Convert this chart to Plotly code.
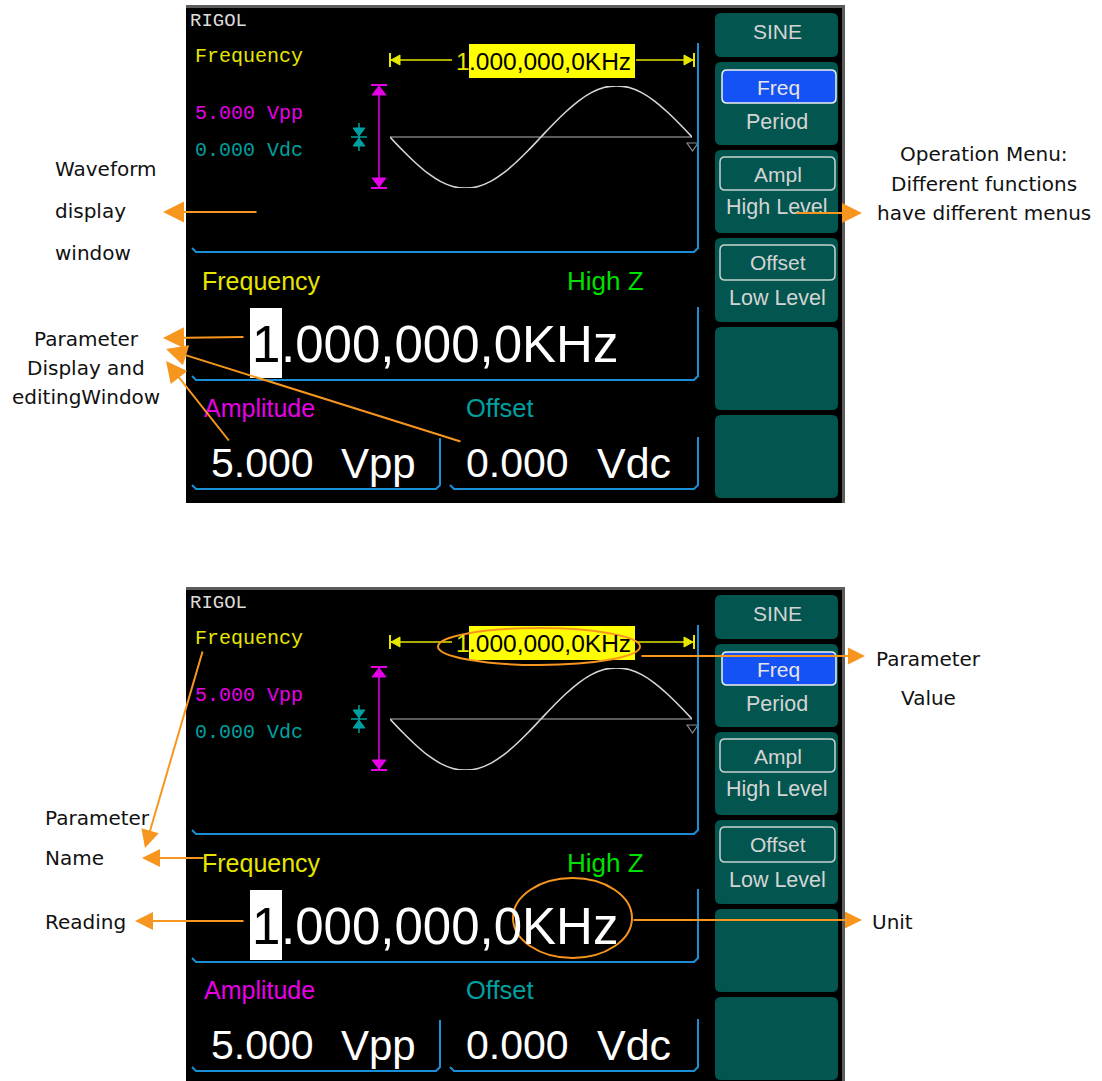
import plotly.graph_objects as go

W, H = 1102, 1081

# ---------------- text / data content ----------------
brand = "RIGOL"
wave_param_name = "Frequency"
wave_status = ["5.000 Vpp", "0.000 Vdc"]
freq_lead_digit = "1"
freq_rest = ".000,000,0KHz"
edit_param_name = "Frequency"
load_label = "High Z"
sub_labels = ["Amplitude", "Offset"]
sub_values = ["5.000", "0.000"]
sub_units = ["Vpp", "Vdc"]
menu_title = "SINE"
menu_upper = ["Freq", "Ampl", "Offset"]
menu_lower = ["Period", "High Level", "Low Level"]

# waveform: phase (deg) and level (fraction of half amplitude)
wave_phase = [0, 15, 30, 45, 60, 75, 90, 105, 120, 135, 150, 165, 180,
              195, 210, 225, 240, 255, 270, 285, 300, 315, 330, 345, 360]
wave_level = [0, -0.26, -0.5, -0.71, -0.87, -0.97, -1, -0.97, -0.87, -0.71, -0.5, -0.26, 0,
              0.26, 0.5, 0.71, 0.87, 0.97, 1, 0.97, 0.87, 0.71, 0.5, 0.26, 0]

callout_waveform = ["Waveform", "display", "window"]
callout_param = ["Parameter", "Display and", "editingWindow"]
callout_menu = ["Operation Menu:", "Different functions", "have different menus"]
callout_value = ["Parameter", "Value"]
callout_name = ["Parameter", "Name"]
callout_reading = ["Reading"]
callout_unit = ["Unit"]

# ---------------- styles ----------------
ORANGE = "#f7961f"
BLUE_FRAME = "#1b8fd6"
YELLOW = "#e6e600"
MAGENTA = "#e600e6"
TEAL = "#00a0a0"
GREEN = "#00e000"
BTN = "#02564f"
MENU_TXT = "#d4d4d4"

MONO = "Liberation Mono, DejaVu Sans Mono, monospace"
SANS = "Liberation Sans, Arial, sans-serif"
LABEL = "DejaVu Sans, Verdana, sans-serif"

SCREEN_DY = [0, 582]

shapes = []
annotations = []


def rect(x0, y0, x1, y1, fill, layer="below"):
    shapes.append(dict(type="rect", xref="x", yref="y", x0=x0, y0=y0, x1=x1, y1=y1,
                       fillcolor=fill, line=dict(width=0), layer=layer))


def path(d, color, width=2, fill=None, layer="below"):
    shapes.append(dict(type="path", xref="x", yref="y", path=d,
                       line=dict(color=color, width=width),
                       fillcolor=fill if fill else "rgba(0,0,0,0)", layer=layer))


def rrect_path(x0, y0, x1, y1, r):
    return (f"M{x0+r},{y0} L{x1-r},{y0} Q{x1},{y0} {x1},{y0+r} L{x1},{y1-r} "
            f"Q{x1},{y1} {x1-r},{y1} L{x0+r},{y1} Q{x0},{y1} {x0},{y1-r} "
            f"L{x0},{y0+r} Q{x0},{y0} {x0+r},{y0} Z")


def text(x, y, s, size, color, family, anchor="left"):
    annotations.append(dict(x=x, y=y, xref="x", yref="y", text=s, showarrow=False,
                            xanchor=anchor, yanchor="middle",
                            font=dict(size=size, color=color, family=family)))


def arrow(tail, tip, size=2.0):
    annotations.append(dict(x=tip[0], y=tip[1], ax=tail[0], ay=tail[1],
                            xref="x", yref="y", axref="x", ayref="y", text="",
                            showarrow=True, arrowhead=2, arrowsize=size, arrowwidth=2,
                            arrowcolor=ORANGE))


fig = go.Figure()

for i, dy in enumerate(SCREEN_DY):
    # screen body
    rect(186, 5 + dy, 845, 503 + dy, "#5c5c5c")
    rect(186, 8 + dy, 842, 503 + dy, "#000000")

    # top-left status
    text(188, 21 + dy, brand, 19, "#dcdcdc", MONO)
    text(193, 56 + dy, wave_param_name, 20, YELLOW, MONO)
    text(193, 113 + dy, wave_status[0], 20, MAGENTA, MONO)
    text(193, 150 + dy, wave_status[1], 20, TEAL, MONO)

    # frequency span marker
    path(f"M390,{60+dy} L452,{60+dy}", YELLOW, 1.5)
    path(f"M636,{60+dy} L693,{60+dy}", YELLOW, 1.5)
    path(f"M390,{53+dy} L390,{67+dy}", YELLOW, 2)
    path(f"M694,{53+dy} L694,{67+dy}", YELLOW, 2)
    path(f"M391,{60+dy} L400,{55+dy} L400,{65+dy} Z", YELLOW, 1, YELLOW)
    path(f"M693,{60+dy} L684,{55+dy} L684,{65+dy} Z", YELLOW, 1, YELLOW)
    rect(469, 44 + dy, 635, 78 + dy, "#ffff00")
    text(472, 61 + dy, freq_lead_digit, 24.5, YELLOW, SANS, "right")
    text(467, 61 + dy, freq_rest, 24.5, "#000000", SANS, "left")

    # amplitude marker
    path(f"M379,{86+dy} L379,{187+dy}", MAGENTA, 1.5)
    path(f"M371,{85+dy} L387,{85+dy}", MAGENTA, 2)
    path(f"M371,{188+dy} L387,{188+dy}", MAGENTA, 2)
    path(f"M379,{86+dy} L372,{95+dy} L386,{95+dy} Z", MAGENTA, 1, MAGENTA)
    path(f"M379,{187+dy} L372,{178+dy} L386,{178+dy} Z", MAGENTA, 1, MAGENTA)

    # offset marker
    path(f"M359,{123+dy} L359,{151+dy}", TEAL, 1.5)
    path(f"M351,{137+dy} L367,{137+dy}", TEAL, 1.5)
    path(f"M359,{136+dy} L353,{128+dy} L365,{128+dy} Z", TEAL, 1, TEAL)
    path(f"M359,{138+dy} L353,{146+dy} L365,{146+dy} Z", TEAL, 1, TEAL)

    # ground marker
    path(f"M687,{143+dy} L698,{143+dy} L692.5,{151+dy} Z", "#8c8c8c", 1.2)

    # blue frames
    path(f"M698,{43+dy} L698,{248+dy} L694,{252+dy} L196,{252+dy} L192,{248+dy}", BLUE_FRAME, 2)
    path(f"M698,{307+dy} L698,{376+dy} L694,{380+dy} L196,{380+dy} L192,{376+dy}", BLUE_FRAME, 2)
    path(f"M440,{438+dy} L440,{485+dy} L436,{489+dy} L196,{489+dy} L192,{485+dy}", BLUE_FRAME, 2)
    path(f"M450,{485+dy} L454,{489+dy} L694,{489+dy} L698,{485+dy} L698,{437+dy}", BLUE_FRAME, 2)

    # editing area
    text(200, 281 + dy, edit_param_name, 25, YELLOW, SANS)
    text(565, 281 + dy, load_label, 26, GREEN, SANS)
    rect(250, 308 + dy, 282, 378 + dy, "#ffffff")
    text(266, 344 + dy, freq_lead_digit, 51, "#000000", SANS, "center")
    text(279, 344 + dy, freq_rest, 51, "#ffffff", SANS, "left")
    text(202, 408 + dy, sub_labels[0], 25, MAGENTA, SANS)
    text(464, 408 + dy, sub_labels[1], 25.5, TEAL, SANS)
    text(209, 463 + dy, sub_values[0], 41, "#ffffff", SANS)
    text(339, 463 + dy, sub_units[0], 42, "#ffffff", SANS)
    text(464, 463 + dy, sub_values[1], 41, "#ffffff", SANS)
    text(595, 463 + dy, sub_units[1], 43, "#ffffff", SANS)

    # menu
    for (t, b) in [(13, 57), (62, 145), (150, 233), (238, 322), (327, 410), (415, 498)]:
        path(rrect_path(715, t + dy, 838, b + dy, 6), BTN, 0, BTN)
    path(rrect_path(722, 70 + dy, 836, 103 + dy, 5), "#f0f0f0", 1.5, "#1552f5")
    path(rrect_path(720, 157 + dy, 835, 190 + dy, 5), "#c8d2d0", 1.5, BTN)
    path(rrect_path(720, 245 + dy, 835, 280 + dy, 5), "#c8d2d0", 1.5, BTN)
    text(777, 31 + dy, menu_title, 21, MENU_TXT, SANS, "center")
    for (u, lo, yu, yl) in zip(menu_upper, menu_lower, [87, 174, 262], [122, 207, 298]):
        text(778, yu + dy, u, 21, "#e6e6e6" if u == "Freq" else MENU_TXT, SANS, "center")
        text(777, yl + dy, lo, 21.5, MENU_TXT, SANS, "center")

    # waveform on its own scaled axes
    xa, ya = f"x{i+2}", f"y{i+2}"
    fig.add_trace(go.Scatter(x=wave_phase, y=wave_level, mode="lines",
                             line=dict(color="#d6d6d6", width=1.6, shape="spline"),
                             xaxis=xa, yaxis=ya, hoverinfo="skip"))
    shapes.append(dict(type="line", xref=xa, yref=ya, x0=0, x1=361, y0=0, y1=0,
                       line=dict(color="#7a7a7a", width=1.5), layer="below"))

# ---------------- callouts ----------------
for s, y in zip(callout_waveform, [169, 211, 253]):
    text(53, y, s, 20, "#111111", LABEL)
for s, y in zip(callout_param, [339, 368, 397]):
    text(86, y, s, 20, "#111111", LABEL, "center")
for s, y in zip(callout_menu, [154, 184, 213]):
    text(984, y, s, 20, "#111111", LABEL, "center")
for s, y in zip(callout_value, [659, 698]):
    text(928, y, s, 20, "#111111", LABEL, "center")
for s, y in zip(callout_name, [818, 858]):
    text(43, y, s, 20, "#111111", LABEL)
text(43, 922, callout_reading[0], 20, "#111111", LABEL)
text(870, 922, callout_unit[0], 20, "#111111", LABEL)

arrow((258, 212), (163, 212), 2.1)
arrow((795, 213), (862, 213), 2.0)
arrow((245, 337), (163, 338), 2.1)
arrow((462, 442), (166, 349), 2.1)
arrow((230, 442), (166, 361), 2.1)
arrow((203, 650), (145, 848), 1.8)
arrow((205, 858), (142, 858), 1.8)
arrow((245, 921), (135, 921), 1.8)
arrow((640, 656), (865, 656), 1.7)
arrow((632, 920), (862, 920), 1.7)

shapes.append(dict(type="circle", xref="x", yref="y", x0=438, x1=640, y0=628, y1=665,
                   line=dict(color=ORANGE, width=2), layer="above"))
shapes.append(dict(type="circle", xref="x", yref="y", x0=513, x1=632, y0=878, y1=958,
                   line=dict(color=ORANGE, width=2), layer="above"))

layout = dict(
    width=W, height=H, margin=dict(l=0, r=0, t=0, b=0),
    paper_bgcolor="#ffffff", plot_bgcolor="rgba(0,0,0,0)", showlegend=False,
    xaxis=dict(range=[0, W], visible=False, fixedrange=True),
    yaxis=dict(range=[H, 0], visible=False, fixedrange=True),
    shapes=shapes, annotations=annotations,
)
for i, dy in enumerate(SCREEN_DY):
    n = i + 2
    layout[f"xaxis{n}"] = dict(domain=[390 / W, 692 / W], range=[0, 360], visible=False,
                               fixedrange=True, anchor=f"y{n}")
    layout[f"yaxis{n}"] = dict(domain=[1 - (188 + dy) / H, 1 - (86 + dy) / H], range=[-1, 1],
                               visible=False, fixedrange=True, anchor=f"x{n}")
fig.update_layout(**layout)

fig.write_html("out.html", config={"displayModeBar": False},
               post_script="document.body.style.margin='0';")
